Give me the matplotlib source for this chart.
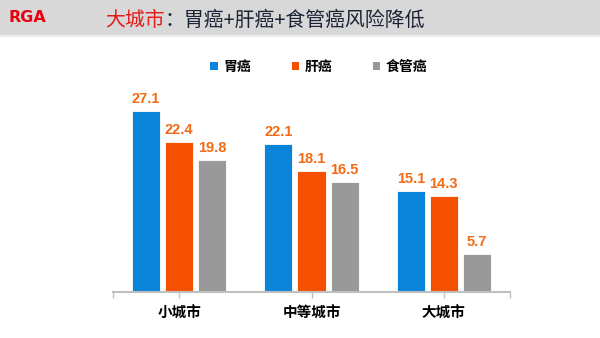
import matplotlib.pyplot as plt
from matplotlib.patches import Rectangle, Patch

plt.rcParams['font.family'] = ['Noto Sans CJK SC', 'DejaVu Sans']

cities = ["小城市", "中等城市", "大城市"]
series_names = ["胃癌", "肝癌", "食管癌"]
stomach = [27.1, 22.1, 15.1]
liver = [22.4, 18.1, 14.3]
esophagus = [19.8, 16.5, 5.7]
values = [stomach, liver, esophagus]
colors = ["#0A84D8", "#F55000", "#999999"]
label_color = "#F26A14"

fig = plt.figure(figsize=(6, 3.38), dpi=100)
fig.patch.set_facecolor("white")

# grey header band
fig.patches.append(Rectangle((0, 1 - 35 / 338), 1, 35 / 338, transform=fig.transFigure,
                             facecolor="#D8D8D8", edgecolor="none", zorder=0))
fig.patches.append(Rectangle((0, 1 - 37 / 338), 1, 2 / 338, transform=fig.transFigure,
                             facecolor="#EDEDED", edgecolor="none", zorder=0))
fig.text(8 / 600, 1 - 17 / 338, "RGA", color="#E8000E", fontsize=11.5, fontweight="bold",
         family="DejaVu Sans", va="center", ha="left")

t1 = fig.text(105 / 600, 1 - 20 / 338, "大城市", color="#E31B1B", fontsize=14.3,
              va="center", ha="left")
t2 = fig.text(0, 0, "：胃癌+肝癌+食管癌风险降低", color="#1B2434", fontsize=14.3,
              va="center", ha="left")
# place second part right after the red part
fig.canvas.draw()
bb = t1.get_window_extent()
t2.set_position((bb.x1 / fig.bbox.width, 1 - 20 / 338))

ax = fig.add_axes([113 / 600, 46 / 338, 397 / 600, 200.4 / 338])
x = range(len(cities))
width = 0.212
step = 0.25
for i, (vals, col) in enumerate(zip(values, colors)):
    pos = [xi + (i - 1) * step for xi in x]
    ax.bar(pos, vals, width=width, color=col, edgecolor="white", linewidth=0.6, zorder=2)
    for p, v in zip(pos, vals):
        ax.text(p, v + 0.75, f"{v}", ha="center", va="bottom", color=label_color,
                fontsize=10.5, fontweight="bold", family="Liberation Sans")

ax.set_xlim(-0.5, 2.5)
ax.set_ylim(0, 30)
ax.set_xticks(list(x))
ax.set_xticklabels(cities, fontsize=10.5, fontweight="bold")
ax.set_xticks([-0.5, 2.5], minor=True)
ax.set_yticks([])
for s in ["top", "right", "left"]:
    ax.spines[s].set_visible(False)
ax.spines["bottom"].set_color("#BFBFBF")
ax.spines["bottom"].set_linewidth(1.5)
ax.tick_params(axis="x", which="both", color="#BFBFBF", length=4, width=1, pad=5)

handles = [Patch(facecolor=c, edgecolor="none") for c in colors]
fig.legend(handles, series_names, loc="center", bbox_to_anchor=(319 / 600, 1 - 67 / 338),
           ncol=3, frameon=False, prop={"size": 10, "weight": "bold"},
           handlelength=0.55, handleheight=0.55, handletextpad=0.4, columnspacing=2.9)

fig.savefig("out.png", dpi=100)
